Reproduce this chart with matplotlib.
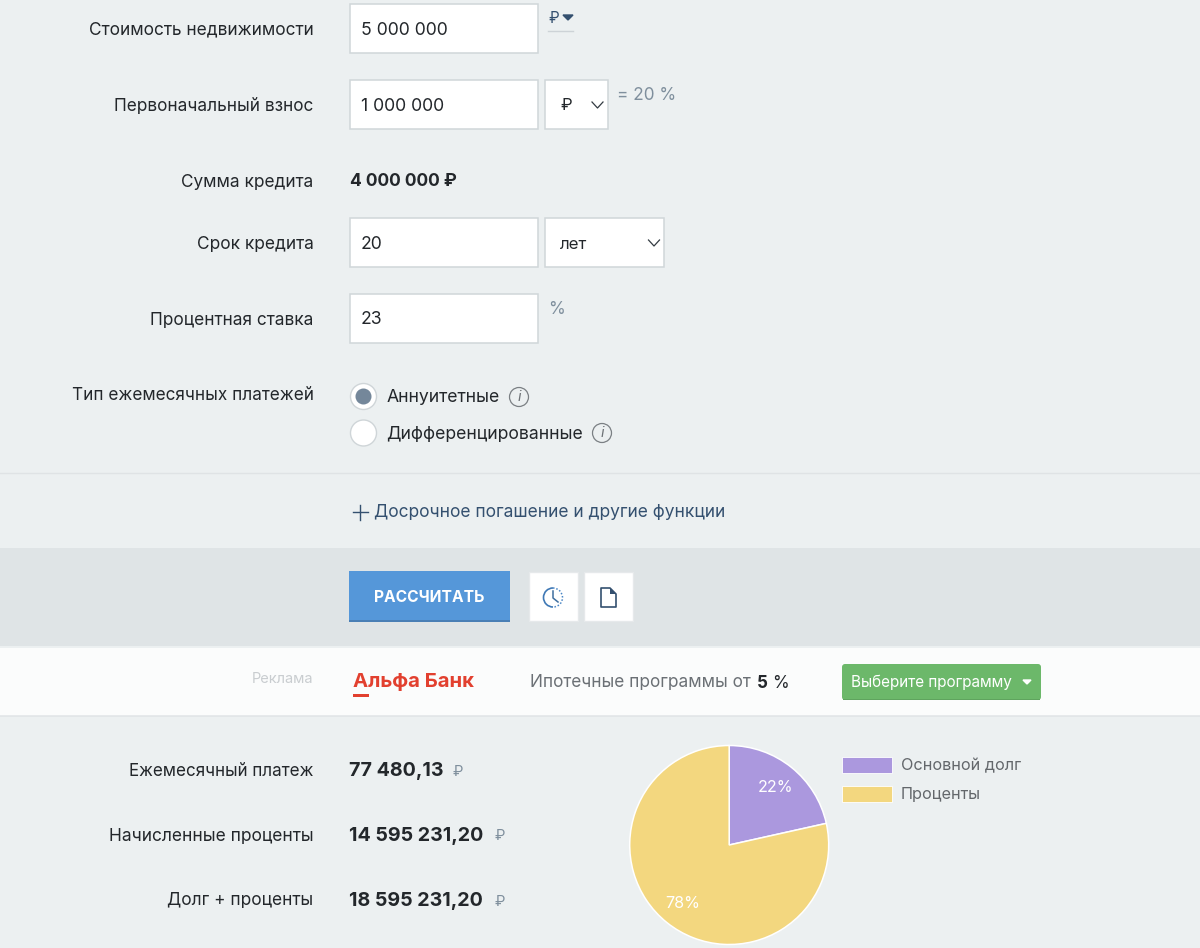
import matplotlib
matplotlib.use("Agg")
import matplotlib.pyplot as plt
from matplotlib.patches import Rectangle, Circle, FancyBboxPatch, Polygon, Arc

plt.rcParams['font.family'] = ['Inter', 'Noto Sans', 'DejaVu Sans']

W, H = 1200, 948

# form rows
form_labels = ["Стоимость недвижимости", "Первоначальный взнос", "Сумма кредита",
               "Срок кредита", "Процентная ставка", "Тип ежемесячных платежей"]
form_label_y = [29, 105, 181, 243, 319, 395]
form_label_sizes = [12.45, 12.4, 12.4, 12.45, 12.45, 12.35]
input_values = ["5 000 000", "1 000 000", "20", "23"]
input_y = [29, 105, 243, 319]

# results
result_labels = ["Ежемесячный платеж", "Начисленные проценты", "Долг + проценты"]
result_label_sizes = [12.25, 12.5, 12.45]
result_values = ["77 480,13", "14 595 231,20", "18 595 231,20"]
result_y = [770, 835, 900]
result_rub_x = [458, 500, 500]

# pie
pie_names = ["Основной долг", "Проценты"]
pie_values = [4000000, 14595231.20]
pie_texts = ["22%", "78%"]
pie_colors = ["#ab98de", "#f3d77f"]

BG = "#ecf0f1"
DARK = "#23272b"
BORDER = "#d0d6d9"
GREY = "#7f8f9d"
NAVY = "#34506f"


def txt(ax, x, y, s, size=12.4, color=DARK, ha="left", weight="normal", **kw):
    # helper y is the visual middle of the row, Inter sits a bit high with va=center
    ax.text(x, y + 1.5, s, fontsize=size, color=color, ha=ha, va="center", weight=weight, **kw)


def box(ax, x, y, w, h, face="white", edge=BORDER, lw=1.1):
    ax.add_patch(Rectangle((x, y), w, h, facecolor=face, edgecolor=edge, lw=lw))


def chevron(ax, x, y):
    ax.plot([x - 5.5, x, x + 5.5], [y - 3, y + 3, y - 3], color="#333b42", lw=0.9)


def info_icon(ax, x, y):
    ax.add_patch(Circle((x, y), 9.5, facecolor="none", edgecolor="#7b8084", lw=0.9))
    ax.text(x, y, "i", fontsize=10.5, color="#6d7276", ha="center", va="center", style="italic")


def main():
    fig = plt.figure(figsize=(W / 100, H / 100), dpi=100, facecolor=BG)
    ax = fig.add_axes([0, 0, 1, 1])
    ax.set_xlim(0, W)
    ax.set_ylim(H, 0)
    ax.axis("off")

    # button band and ad strip
    ax.add_patch(Rectangle((0, 548), W, 98, facecolor="#dfe4e6", edgecolor="none"))
    ax.add_patch(Rectangle((0, 648), W, 68, facecolor="#fbfcfc", edgecolor="none"))
    ax.plot([0, W], [716, 716], color="#e0e4e6", lw=1.1)
    ax.plot([0, W], [472.5, 472.5], color="#dfe3e5", lw=1)

    for label, y, size in zip(form_labels, form_label_y, form_label_sizes):
        txt(ax, 313.5, y - 0.5, label, ha="right", size=size)

    for val, y in zip(input_values, input_y):
        box(ax, 349.5, y - 25, 188.5, 49)
        txt(ax, 361, y - 0.5, val, size=12.7)

    # currency bits
    txt(ax, 548, 17, "₽", size=11, color=NAVY)
    ax.add_patch(Polygon([[563, 15], [573, 15], [568, 20]], color=NAVY))
    ax.plot([548, 573], [30.5, 30.5], color="#cdd3d7", lw=1)
    box(ax, 544.5, 80, 63, 49)
    txt(ax, 566, 103.5, "₽", ha="center", size=12)
    chevron(ax, 597.5, 105)
    txt(ax, 617, 93.5, "= 20 %", color=GREY, size=12.4)
    txt(ax, 350, 179.5, "4 000 000 ₽", weight="bold", size=12.6)
    box(ax, 544.5, 218, 119.5, 49)
    txt(ax, 560, 242.5, "лет", size=12.2)
    chevron(ax, 654, 243)
    txt(ax, 548, 308, "%", color=GREY, size=12.4)

    # radios
    ax.add_patch(Circle((363.5, 396.5), 13, facecolor="white", edgecolor="#cfd5d8", lw=1))
    ax.add_patch(Circle((363.5, 396.5), 8, facecolor="#74879a", edgecolor="none"))
    ax.add_patch(Circle((363.5, 433), 13, facecolor="white", edgecolor="#cfd5d8", lw=1))
    txt(ax, 387, 396, "Аннуитетные", size=12.7)
    txt(ax, 386.5, 433, "Дифференцированные", size=12.7)
    info_icon(ax, 519, 397)
    info_icon(ax, 602, 433)

    # extra options link
    ax.plot([352.5, 367.5], [512, 512], color=NAVY, lw=1.0)
    ax.plot([360, 360], [504.5, 519.5], color=NAVY, lw=1.0)
    txt(ax, 374, 510.5, "Досрочное погашение и другие функции", color=NAVY, size=12.5)

    # calculate button
    ax.add_patch(Rectangle((349, 571), 161, 51, facecolor="#5597d9", edgecolor="none"))
    ax.add_patch(Rectangle((349, 619.5), 161, 2.5, facecolor="#4a7fb5", edgecolor="none"))
    txt(ax, 429.5, 596, "РАССЧИТАТЬ", color="white", ha="center", weight="bold", size=11.2)
    box(ax, 528.5, 572, 49, 49, edge="#e6e9eb", lw=1)
    box(ax, 583.5, 572, 49, 49, edge="#e6e9eb", lw=1)
    # clock: solid on the left, dotted on the right
    ax.add_patch(Arc((553, 597.5), 19, 19, theta1=90, theta2=270, color="#3f78b5", lw=1.2))
    ax.add_patch(Arc((553, 597.5), 19, 19, theta1=-90, theta2=90, color="#4a86c5", lw=1.1,
                     ls=(0, (1, 1.2))))
    ax.plot([553, 553, 558], [591, 598, 602], color="#3f6f9f", lw=1.1)
    ax.add_patch(Polygon([[601, 588], [610, 588], [616, 594], [616, 607], [601, 607]],
                         facecolor="white", edgecolor=NAVY, lw=1.2, joinstyle="round"))
    ax.add_patch(Polygon([[610, 588], [616, 594], [610, 594]], facecolor=NAVY, edgecolor="none"))

    # ad strip
    txt(ax, 252, 677.5, "Реклама", color="#c9cdd0", size=10.5)
    txt(ax, 353, 680.5, "Альфа Банк", color="#e2402f", weight="bold", size=14.6)
    ax.add_patch(Rectangle((353, 694), 16, 3, facecolor="#e2402f", edgecolor="none"))
    txt(ax, 530, 681.5, "Ипотечные программы от", color="#6b7075", size=12.4)
    txt(ax, 757, 681.5, "5", weight="bold", size=12.3)
    txt(ax, 772, 681.5, "%", size=12.3)
    ax.add_patch(FancyBboxPatch((842, 664), 199, 36, boxstyle="round,pad=0,rounding_size=3",
                                facecolor="#6cb86a", edgecolor="none"))
    ax.add_patch(Rectangle((843, 698.5), 197, 1.5, facecolor="#5fa45e", edgecolor="none"))
    txt(ax, 851, 680.5, "Выберите программу", color="white", size=11.0)
    ax.add_patch(Polygon([[1023, 680], [1031, 680], [1027, 684]], color="white"))

    # results
    for label, size, val, y, rx in zip(result_labels, result_label_sizes, result_values,
                                       result_y, result_rub_x):
        txt(ax, 313.5, y - 0.5, label, ha="right", size=size)
        txt(ax, 349, y - 0.5, val, weight="bold", size=14.15)
        txt(ax, rx, y, "₽", color=GREY, size=10.8, ha="center")

    # pie
    cx, cy, r = 729.2, 845, 99.5
    pax = fig.add_axes([(cx - r) / W, 1 - (cy + r) / H, 2 * r / W, 2 * r / H])
    wedges, _ = pax.pie(pie_values, colors=pie_colors, startangle=90, counterclock=False,
                        radius=1.0, wedgeprops={"edgecolor": "white", "linewidth": 1.1})
    pax.set_xlim(-1, 1)
    pax.set_ylim(-1, 1)
    pax.set_aspect("equal")
    for t, x, y in zip(pie_texts, (775.5, 682.5), (788, 903)):
        ax.text(x, y, t, color="white", fontsize=11.6, ha="center", va="center", zorder=5)
    ax.set_zorder(2)
    ax.patch.set_visible(False)

    # legend
    for name, color, y in zip(pie_names, pie_colors, (764.5, 793.5)):
        ax.add_patch(Rectangle((842, y - 8), 50, 16, facecolor=color, edgecolor="white", lw=0.6))
        txt(ax, 901, y - 0.5, name, color="#63676b", size=11.7)

    fig.savefig("out.png", dpi=100, facecolor=BG)


if __name__ == "__main__":
    main()
